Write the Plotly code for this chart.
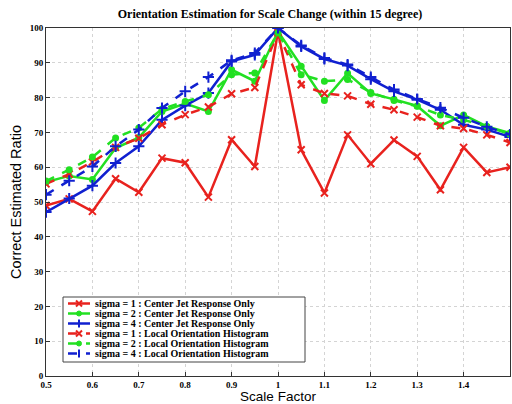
import plotly.graph_objects as go

x_vals = [0.5, 0.55, 0.6, 0.65, 0.7, 0.75, 0.8, 0.85, 0.9, 0.95, 1.0,
          1.05, 1.1, 1.15, 1.2, 1.25, 1.3, 1.35, 1.4, 1.45, 1.5]

cjr_s1 = [49.0, 50.9, 47.3, 56.7, 52.8, 62.6, 61.3, 51.4, 67.9, 60.2, 99.0,
          65.0, 52.6, 69.3, 61.0, 67.8, 63.1, 53.5, 65.7, 58.5, 60.0]
cjr_s2 = [55.7, 57.5, 56.5, 65.5, 68.5, 76.0, 78.3, 76.0, 88.0, 84.7, 99.0,
          89.0, 79.2, 87.0, 81.2, 79.5, 77.6, 71.9, 75.0, 71.7, 69.8]
cjr_s4 = [47.1, 51.0, 54.7, 61.2, 66.0, 73.6, 77.7, 81.3, 90.4, 92.3, 100.0,
          94.7, 91.1, 89.2, 85.3, 81.8, 79.4, 76.5, 72.2, 70.8, 68.7]
loh_s1 = [55.2, 58.0, 61.5, 65.7, 68.3, 72.2, 75.1, 77.3, 81.1, 82.9, 98.6,
          83.7, 81.2, 80.5, 78.1, 76.5, 74.4, 71.9, 71.1, 69.3, 67.1]
loh_s2 = [56.0, 59.3, 62.9, 68.4, 71.3, 76.7, 78.9, 80.8, 86.6, 87.1, 98.6,
          86.6, 84.7, 85.2, 81.5, 79.2, 77.5, 75.0, 73.6, 71.7, 69.5]
loh_s4 = [52.1, 56.1, 60.2, 66.0, 70.8, 77.0, 81.8, 85.9, 90.7, 92.8, 100.0,
          95.0, 91.4, 89.5, 85.9, 82.3, 79.6, 77.1, 74.2, 71.6, 69.4]

series_names = [
    "sigma = 1 : Center Jet Response Only",
    "sigma = 2 : Center Jet Response Only",
    "sigma = 4 : Center Jet Response Only",
    "sigma = 1 : Local Orientation Histogram",
    "sigma = 2 : Local Orientation Histogram",
    "sigma = 4 : Local Orientation Histogram",
]
x_ticks = [0.5, 0.6, 0.7, 0.8, 0.9, 1.0, 1.1, 1.2, 1.3, 1.4, 1.5]
x_tick_labels = ["0.5", "0.6", "0.7", "0.8", "0.9", "1", "1.1", "1.2", "1.3", "1.4", "1.5"]
y_ticks = [0, 10, 20, 30, 40, 50, 60, 70, 80, 90, 100]

RED = "#e8221e"
GREEN = "#22e022"
BLUE = "#1020d0"

styles = [
    (RED, "solid", "x-thin-open", 7),
    (GREEN, "solid", "circle", 5),
    (BLUE, "solid", "cross-thin-open", 8),
    (RED, "dash", "x-thin-open", 7),
    (GREEN, "dash", "circle", 5),
    (BLUE, "dash", "cross-thin-open", 8),
]
data = [cjr_s1, cjr_s2, cjr_s4, loh_s1, loh_s2, loh_s4]

W, H = 512, 404
ML, MR, MT, MB = 46, 2, 28, 28
PW, PH = W - ML - MR, H - MT - MB


def px(xp):  # page pixel -> paper x
    return (xp - ML) / PW


def py(yp):  # page pixel -> paper y
    return (H - MB - yp) / PH


fig = go.Figure()
for name, ys, (col, dash, sym, sz) in zip(series_names, data, styles):
    fig.add_trace(go.Scatter(
        x=x_vals, y=ys, name=name, mode="lines+markers",
        line=dict(color=col, width=2.5, dash=dash),
        marker=dict(symbol=sym, size=sz, color=col, line=dict(color=col, width=2)),
        showlegend=False,
    ))

# custom compact legend
shapes = [dict(type="rect", xref="paper", yref="paper",
               x0=px(63), x1=px(305), y0=py(362), y1=py(297),
               fillcolor="white", line=dict(color="#444", width=1), layer="above")]
annotations = []
for i, (name, (col, dash, sym, sz)) in enumerate(zip(series_names, styles)):
    yc = 303.5 + 10 * i
    shapes.append(dict(type="line", xref="paper", yref="paper",
                       x0=px(68), x1=px(90), y0=py(yc), y1=py(yc),
                       line=dict(color=col, width=2.5, dash="dash" if dash == "dash" else "solid"),
                       layer="above"))
    mc = 79
    if sym.startswith("x"):
        for a, b in [(-3, -3), (-3, 3)]:
            shapes.append(dict(type="line", xref="paper", yref="paper",
                               x0=px(mc + a), x1=px(mc - a), y0=py(yc + b), y1=py(yc - b),
                               line=dict(color=col, width=2), layer="above"))
    elif sym.startswith("cross"):
        shapes.append(dict(type="line", xref="paper", yref="paper",
                           x0=px(mc), x1=px(mc), y0=py(yc - 4), y1=py(yc + 4),
                           line=dict(color=col, width=2), layer="above"))
    else:
        shapes.append(dict(type="circle", xref="paper", yref="paper",
                           x0=px(mc - 2.5), x1=px(mc + 2.5), y0=py(yc + 2.5), y1=py(yc - 2.5),
                           fillcolor=col, line=dict(color=col, width=1), layer="above"))
    annotations.append(dict(xref="paper", yref="paper", x=px(93), y=py(yc),
                            xanchor="left", yanchor="middle", showarrow=False,
                            text="<b>" + name + "</b>",
                            font=dict(family="Liberation Serif", size=10, color="black")))

fig.update_layout(
    width=W, height=H,
    margin=dict(l=ML, r=MR, t=MT, b=MB, autoexpand=False),
    paper_bgcolor="white", plot_bgcolor="white",
    title=dict(text="<b>Orientation Estimation for Scale Change (within 15 degree)</b>",
               xref="paper", x=px(270), xanchor="center",
               yref="container", y=1 - 14 / H, yanchor="middle",
               font=dict(family="Liberation Serif", size=12, color="black")),
    xaxis=dict(range=[0.5, 1.5], tickvals=x_ticks, ticktext=x_tick_labels,
               showline=True, linecolor="#333", linewidth=1, mirror=True,
               ticks="inside", ticklen=4, tickcolor="#333",
               showgrid=True, gridcolor="#d4d4d4", griddash="dot", gridwidth=1,
               zeroline=False,
               tickfont=dict(family="Liberation Serif", size=9, color="black", weight="bold"),
               title=dict(text="Scale Factor", standoff=2,
                          font=dict(family="Liberation Sans", size=13.5, color="black"))),
    yaxis=dict(range=[0, 100], tickvals=y_ticks,
               showline=True, linecolor="#333", linewidth=1, mirror=True,
               ticks="inside", ticklen=4, tickcolor="#333",
               showgrid=True, gridcolor="#d4d4d4", griddash="dot", gridwidth=1,
               zeroline=False,
               tickfont=dict(family="Liberation Serif", size=9, color="black", weight="bold"),
               title=dict(text="Correct Estimated Ratio", standoff=4,
                          font=dict(family="Liberation Sans", size=14.5, color="black"))),
    shapes=shapes,
    annotations=annotations,
    showlegend=False,
)

fig.write_html("out.html", config={"displayModeBar": False},
               post_script="document.body.style.margin='0';document.body.style.overflow='hidden';")
